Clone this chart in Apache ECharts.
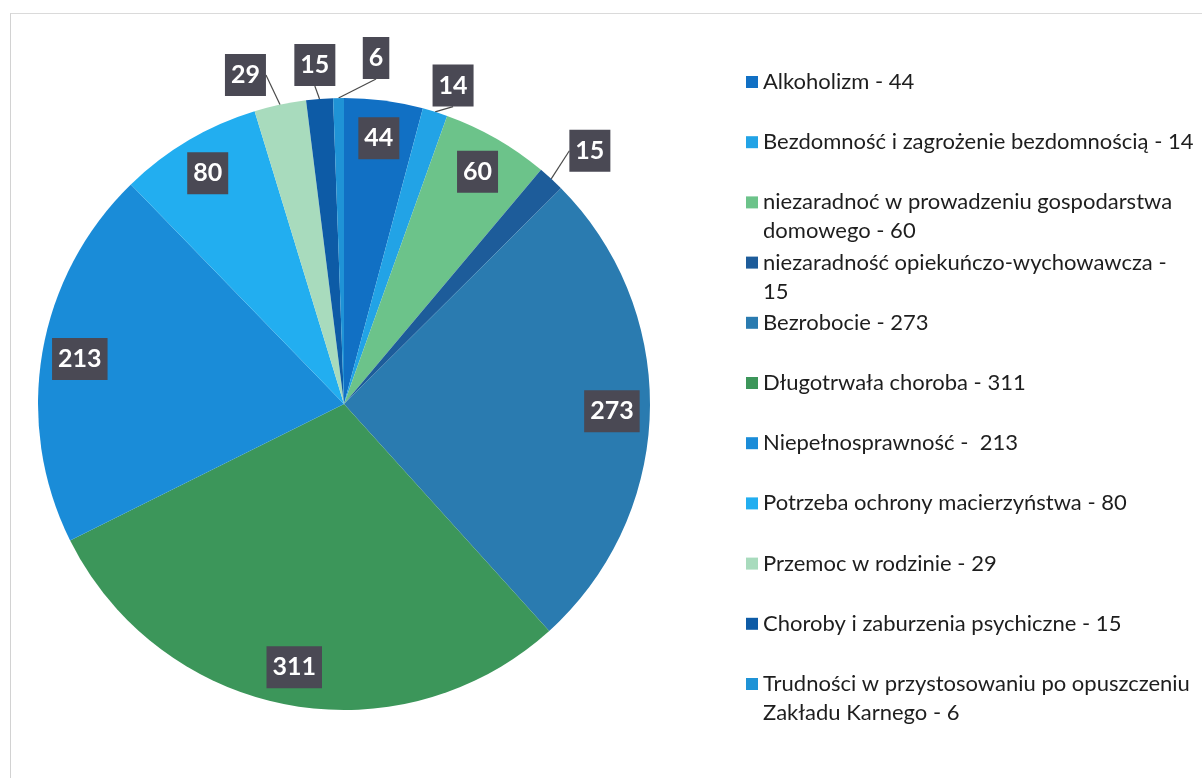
<!DOCTYPE html>
<html>
<head>
<meta charset="utf-8">
<script src="https://cdn.jsdelivr.net/npm/echarts@6/dist/echarts.min.js"></script>
<style>
  html, body { margin: 0; padding: 0; background: #ffffff; }
  #frame { position: absolute; left: 10px; top: 13px; width: 1192px; height: 765px;
           border-left: 1px solid #d2d2d2; border-top: 1px solid #dadada; }
  #chart { position: absolute; left: 0; top: 0; width: 1202px; height: 778px; }
</style>
</head>
<body>
<div id="frame"></div>
<div id="chart"></div>
<script>
// kategorie i wartości
var categories = [
  "Alkoholizm",
  "Bezdomność i zagrożenie bezdomnością",
  "niezaradnoć w prowadzeniu gospodarstwa domowego",
  "niezaradność opiekuńczo-wychowawcza",
  "Bezrobocie",
  "Długotrwała choroba",
  "Niepełnosprawność",
  "Potrzeba ochrony macierzyństwa",
  "Przemoc w rodzinie",
  "Choroby i zaburzenia psychiczne",
  "Trudności w przystosowaniu po opuszczeniu Zakładu Karnego"
];
var values = [44, 14, 60, 15, 273, 311, 213, 80, 29, 15, 6];
// teksty legendy (z łamaniem wierszy jak w oryginale)
var legendLabels = [
  "Alkoholizm - 44",
  "Bezdomność i zagrożenie bezdomnością - 14",
  "niezaradnoć w prowadzeniu gospodarstwa\ndomowego - 60",
  "niezaradność opiekuńczo-wychowawcza -\n15",
  "Bezrobocie - 273",
  "Długotrwała choroba - 311",
  "Niepełnosprawność -  213",
  "Potrzeba ochrony macierzyństwa - 80",
  "Przemoc w rodzinie - 29",
  "Choroby i zaburzenia psychiczne - 15",
  "Trudności w przystosowaniu po opuszczeniu\nZakładu Karnego - 6"
];
// które etykiety leżą wewnątrz wycinka
var insideLabel = [true, false, true, false, true, true, true, true, false, false, false];

var colors = ["#1170c4", "#22a3e6", "#6cc38a", "#1d5c9a", "#2a7bb0", "#3c965a",
              "#1a8cd8", "#22aef0", "#a8dbbd", "#0d5ba6", "#1f93d6"];

// przesunięcia etykiet zewnętrznych względem domyślnego położenia
var labelShift = { 1: [-12, -12], 3: [3, -17], 8: [-6, -15], 9: [22, -19], 10: [56, -25] };

var boxLabel = {
  color: "#ffffff",
  fontFamily: "Lato",
  fontWeight: "bold",
  fontSize: 25,
  backgroundColor: "#4a4954",
  padding: [8, 6, 8, 6],
  lineHeight: 26
};

var chart = echarts.init(document.getElementById("chart"));

var mainData = [], overlayData = [];
for (var i = 0; i < categories.length; i++) {
  mainData.push({
    name: categories[i],
    value: values[i],
    itemStyle: { color: colors[i] },
    label: { show: !insideLabel[i] },
    labelLine: { show: !insideLabel[i] }
  });
  overlayData.push({
    name: categories[i],
    value: values[i],
    label: { show: insideLabel[i] }
  });
}

var legends = [];
legendLabels.forEach(function (txt, i) {
  var twoLine = txt.indexOf("\n") >= 0;
  // pusty pierwszy wiersz: znacznik legendy wypada przy pierwszym wierszu tekstu
  var shown = twoLine ? "\n" + txt : txt;
  legends.push({
    left: 746,
    top: 82 + i * 60.2 - (twoLine ? 43.5 : 14.5),
    orient: "vertical",
    padding: 0,
    icon: "rect",
    itemWidth: 12,
    itemHeight: 12,
    selectedMode: false,
    formatter: function () { return shown; },
    textStyle: { fontFamily: "Lato", fontSize: 22, color: "#1e1e1e", lineHeight: 29 },
    data: [categories[i]]
  });
});

var option = {
  animation: false,
  legend: legends,
  series: [
    {
      type: "pie",
      center: [344, 404],
      radius: 306,
      startAngle: 90,
      clockwise: true,
      avoidLabelOverlap: false,
      silent: true,
      itemStyle: { borderWidth: 0 },
      label: Object.assign({ position: "outside", formatter: "{c}", distanceToLabelLine: 5 }, boxLabel),
      labelLine: { length: 15, length2: 0, lineStyle: { color: "#4a4a4a", width: 1.2 } },
      labelLayout: function (p) {
        var s = labelShift[p.dataIndex];
        if (!s) return {};
        return {
          x: p.labelRect.x + s[0],
          y: p.labelRect.y + s[1],
          align: "left",
          verticalAlign: "top"
        };
      },
      data: mainData
    },
    {
      // przezroczysta nakładka tylko dla etykiet wewnątrz wycinków
      type: "pie",
      center: [344, 404],
      radius: [232, 298],
      startAngle: 90,
      clockwise: true,
      silent: true,
      itemStyle: { color: "rgba(0,0,0,0)", borderWidth: 0 },
      label: Object.assign({ position: "inside", formatter: "{c}" }, boxLabel),
      labelLine: { show: false },
      data: overlayData
    }
  ]
};

chart.setOption(option);
</script>
</body>
</html>
